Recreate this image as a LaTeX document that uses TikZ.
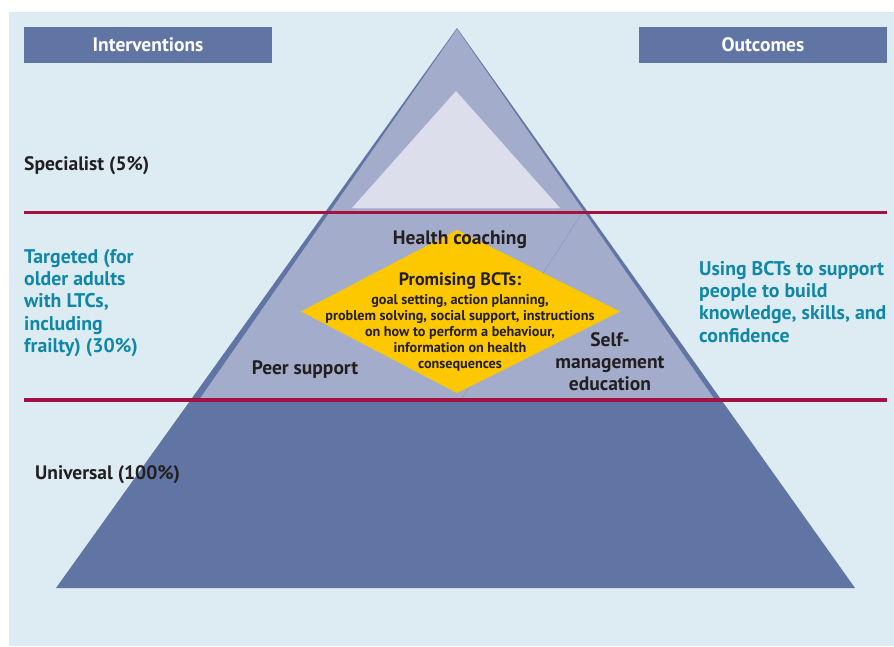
\documentclass[tikz,border=0pt]{standalone}
\usepackage{fontspec}
\setmainfont{PT Sans}
\definecolor{bgblue}{HTML}{DDEBF2}
\definecolor{darkblue}{HTML}{6175A5}
\definecolor{midblue}{HTML}{A3ACCA}
\definecolor{paleblue}{HTML}{DCDFEB}
\definecolor{seam}{HTML}{B4BAD3}
\definecolor{redline}{HTML}{A4123F}
\definecolor{bctyellow}{HTML}{FEC800}
\definecolor{tealtext}{HTML}{1187A8}
\definecolor{darktext}{HTML}{231F20}
\tikzset{
  hdrbox/.style={fill=darkblue, draw=none},
  hdrtext/.style={text=white, font=\bfseries\fontsize{19.5}{22}\selectfont, inner sep=0pt, anchor=base},
  lbl/.style={text=darktext, font=\bfseries\fontsize{19.5}{22}\selectfont, inner sep=0pt},
  teal/.style={text=tealtext, font=\bfseries\fontsize{19.8}{22.3}\selectfont, inner sep=0pt, align=left},
  bcttitle/.style={text=darktext, font=\bfseries\fontsize{18}{20}\selectfont, inner sep=0pt, anchor=base},
  bctbody/.style={text=darktext, font=\bfseries\fontsize{14.2}{15.9}\selectfont, inner sep=0pt, align=center},
  divider/.style={draw=redline, line width=3.5pt}
}
\begin{document}
\begin{tikzpicture}[x=1pt,y=-1pt]
\useasboundingbox (0,0) rectangle (894,646);
% background
\fill[bgblue] (9,12) rectangle (894,646);
% header boxes
\fill[hdrbox] (24,27) rectangle (272,63);
\fill[hdrbox] (639,27) rectangle (887,63);
\node[hdrtext] (interv) at (148,51.5) {Interventions};
\node[hdrtext] (outc) at (763,51.5) {Outcomes};
% pyramid
\coordinate (apex) at (457,28);
\coordinate (bl) at (56,588);
\coordinate (br) at (855,588);
\fill[darkblue] (apex) -- (bl) -- (br) -- cycle;
\fill[midblue] (457,29) -- (199,400) -- (715,400) -- cycle;
\fill[paleblue] (456,91) -- (352,208) -- (560,208) -- cycle;
\draw[seam, line width=1.5pt] (354,208.5) -- (558,208.5);
\draw[darkblue!50!midblue, line width=0.3pt] (582,213) -- (462,398);
% divider lines
\coordinate (r1a) at (24,212.5);
\coordinate (r1b) at (887,212.5);
\coordinate (r2a) at (24,400);
\coordinate (r2b) at (887,400);
\draw[divider] (r1a) -- (r1b);
\draw[divider] (r2a) -- (r2b);
% diamond
\fill[bctyellow] (457,230) -- (620,311.5) -- (457,393) -- (301,311.5) -- cycle;
% left labels
\node[lbl, anchor=base west] (spec) at (24,170.5) {Specialist (5\%)};
\node[teal, anchor=north west] (targ) at (24,249) {Targeted (for\\older adults\\with LTCs,\\including\\frailty) (30\%)};
\node[lbl, anchor=base west] (univ) at (35,479.5) {Universal (100\%)};
% inner labels
\node[lbl, anchor=base] (hc) at (460,244.5) {Health coaching};
\node[bcttitle] (pbct) at (460,285.5) {Promising BCTs:};
\node[bctbody, anchor=north] (bcts) at (460,294.5) {goal setting, action planning,\\problem solving, social support, instructions\\on how to perform a behaviour,\\information on health\\consequences};
\node[lbl, anchor=base] (peer) at (305,374) {Peer support};
\node[lbl, align=center, anchor=north] (sme) at (610,332) {Self-\\management\\education};
% right label
\node[teal, anchor=north west] (outtxt) at (699,261) {Using BCTs to support\\people to build\\knowledge, skills, and\\confidence};
\end{tikzpicture}
\end{document}
